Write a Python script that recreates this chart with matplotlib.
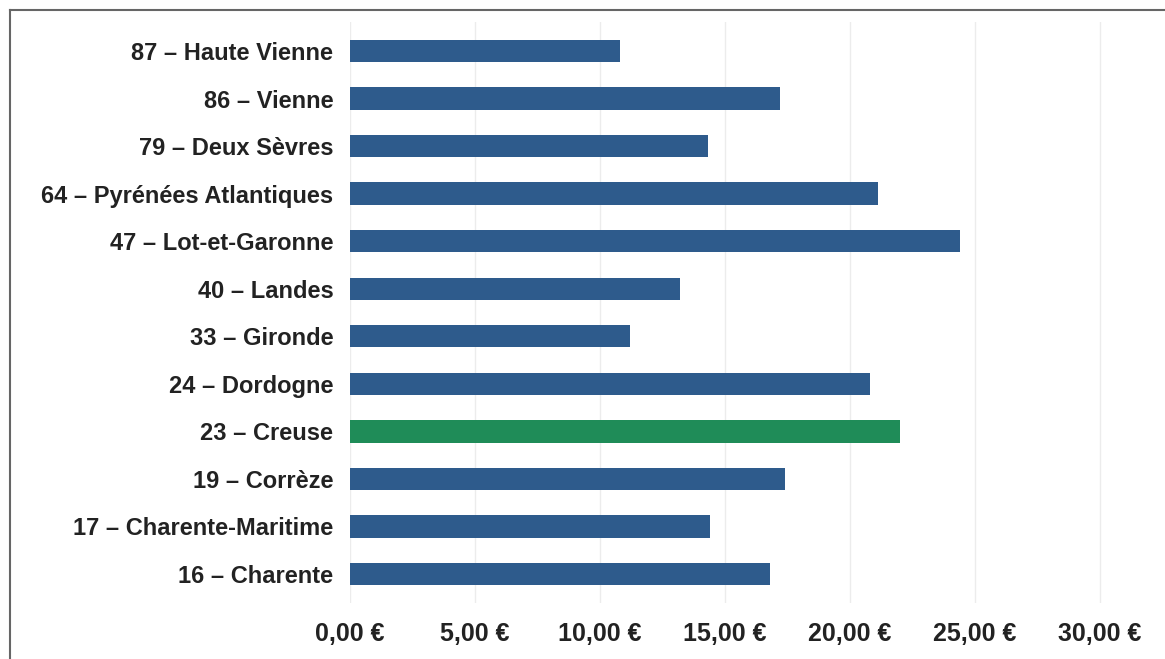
import matplotlib.pyplot as plt
from matplotlib.lines import Line2D
from matplotlib.ticker import FuncFormatter

departments = ["16 – Charente", "17 – Charente-Maritime", "19 – Corrèze", "23 – Creuse",
               "24 – Dordogne", "33 – Gironde", "40 – Landes", "47 – Lot-et-Garonne",
               "64 – Pyrénées Atlantiques", "79 – Deux Sèvres", "86 – Vienne",
               "87 – Haute Vienne"]
prices = [16.8, 14.4, 17.4, 22.0, 20.8, 11.2, 13.2, 24.4, 21.1, 14.3, 17.2, 10.8]
highlight = "23 – Creuse"
x_ticks = [0, 5, 10, 15, 20, 25, 30]

plt.rcParams['font.family'] = ['Liberation Sans', 'DejaVu Sans']
plt.rcParams['font.weight'] = 'bold'

fig = plt.figure(figsize=(11.65, 6.59), dpi=100)
ax = fig.add_axes([0.3004, 0.0857, 0.6525, 0.8802])

colors = ["#1f8c58" if d == highlight else "#2e5b8c" for d in departments]
ax.barh(range(len(departments)), prices, height=0.47, color=colors, zorder=2)

ax.set_xlim(0, 30.4)
ax.set_ylim(-0.6, len(departments) - 0.4)
ax.set_yticks(range(len(departments)))
ax.set_yticklabels(departments)
ax.set_xticks(x_ticks)
ax.xaxis.set_major_formatter(FuncFormatter(lambda v, p: f"{v:.2f} €".replace(".", ",")))

ax.tick_params(axis='y', length=0, pad=12, labelsize=17, labelcolor="#222222")
ax.tick_params(axis='x', length=0, pad=14, labelsize=18, labelcolor="#222222")
ax.grid(axis='x', color="#ececec", linewidth=1, zorder=0)
for s in ax.spines.values():
    s.set_visible(False)

# scanned frame around the chart
fig.add_artist(Line2D([10 / 1165, 10 / 1165], [0, 1 - 10 / 659], color="#666666", lw=1.5))
fig.add_artist(Line2D([10 / 1165, 1], [1 - 10 / 659, 1 - 10 / 659], color="#666666", lw=1.5))

fig.savefig("out.png", dpi=100)
